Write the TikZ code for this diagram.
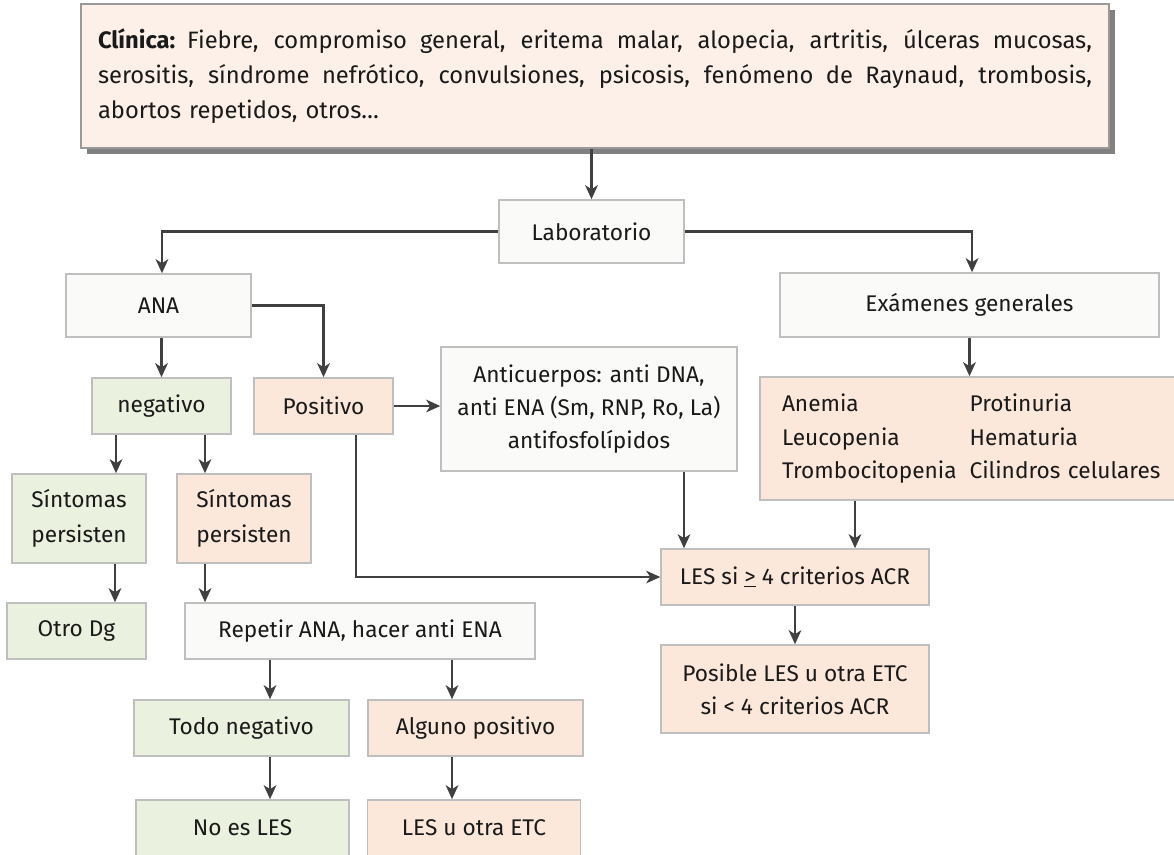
\documentclass[tikz,border=0pt]{standalone}
\usepackage{fontspec}
\setmainfont{Fira Sans}
\usetikzlibrary{arrows.meta,shadows}
\definecolor{bgray}{HTML}{FAFAF8}
\definecolor{bgreen}{HTML}{EAF1DE}
\definecolor{bpeach}{HTML}{FCE8DB}
\definecolor{btop}{HTML}{FDF0E8}
\definecolor{bline}{HTML}{BFBFBF}
\definecolor{arrc}{HTML}{404040}
\definecolor{txt}{HTML}{1A1A1A}
\newcommand\jline[1]{\makebox[745.5pt][s]{\spaceskip=0.26em plus 1fil\relax #1}}
\begin{document}
\begin{tikzpicture}[x=0.75pt,y=-0.75pt,
  box/.style={draw=bline, line width=1.2pt, inner sep=0pt, align=center, text=txt,
    font=\fontsize{17}{25}\selectfont},
  gbox/.style={box, fill=bgray},
  grbox/.style={box, fill=bgreen},
  pbox/.style={box, fill=bpeach},
  link/.style={draw=arrc, line width=1.6pt, -{Stealth[length=10.5pt,width=9.5pt,inset=3pt]}}]
\useasboundingbox (0,0) rectangle (1174,854);

% top box
\node[box, fill=btop, draw=black!40, drop shadow={shadow xshift=4.5pt, shadow yshift=-4.5pt, fill=black!50, opacity=1},
  minimum width=771pt, minimum height=108pt, text width=745.5pt, align=left,
  font=\fontsize{17.8}{26.25}\selectfont] (top) at (595,76)
  {\jline{\textbf{Clínica:} Fiebre, compromiso general, eritema malar, alopecia, artritis, úlceras mucosas,}\\
   \jline{serositis, síndrome nefrótico, convulsiones, psicosis, fenómeno de Raynaud, trombosis,}\\
   abortos repetidos, otros…\\[-6pt]};

\node[gbox, minimum width=138.75pt, minimum height=47.25pt] (lab) at (591.5,231.5) {Laboratorio};
\node[gbox, minimum width=138.75pt, minimum height=47.25pt] (ana) at (158.5,305.5) {ANA};
\node[gbox, minimum width=284.25pt, minimum height=48pt] (exam) at (969.5,305) {Exámenes generales};
\node[grbox, minimum width=104.25pt, minimum height=42pt] (neg) at (161.5,406) {negativo};
\node[pbox, minimum width=104.25pt, minimum height=42pt] (pos) at (323.5,406) {Positivo};
\node[gbox, minimum width=222pt, minimum height=93pt] (anti) at (589,409)
  {Anticuerpos: anti DNA,\\anti ENA (Sm, RNP, Ro, La)\\antifosfolípidos};
\node[pbox, minimum height=92.25pt, text width=289.5pt, inner xsep=16.5pt, align=left] (labres) at (975,438.5)
  {\begin{tabular}{@{}l@{\hspace{9.75pt}}l@{}}
   Anemia & Protinuria\\
   Leucopenia & Hematuria\\
   Trombocitopenia & Cilindros celulares
   \end{tabular}};
\node[grbox, minimum width=100.5pt, minimum height=66.75pt, font=\fontsize{17}{26}\selectfont] (sg) at (79,518.5) {Síntomas\\persisten};
\node[pbox, minimum width=100.5pt, minimum height=66.75pt, font=\fontsize{17}{26}\selectfont] (sp) at (244,518.5) {Síntomas\\persisten};
\node[grbox, minimum width=104.25pt, minimum height=42pt] (otro) at (76.5,631) {Otro Dg};
\node[gbox, minimum width=262.5pt, minimum height=42pt] (rep) at (360,631) {Repetir ANA, hacer anti ENA};
\node[pbox, minimum width=201pt, minimum height=42pt] (les) at (795,577) {LES si \underline{>} 4 criterios ACR};
\node[pbox, minimum width=201pt, minimum height=66pt] (posible) at (795,689) {Posible LES u otra ETC\\si < 4 criterios ACR};
\node[grbox, minimum width=161.25pt, minimum height=42pt] (todo) at (241.5,728) {Todo negativo};
\node[pbox, minimum width=161.25pt, minimum height=42pt] (alg) at (475.5,728) {Alguno positivo};
\node[grbox, minimum width=159.75pt, minimum height=42pt] (noes) at (242.5,828) {No es LES};
\node[pbox, minimum width=159.75pt, minimum height=42pt] (lesu) at (474,828) {LES u otra ETC};

% connectors
\draw[link] (top.south -| lab.north) -- (lab.north);
\draw[link] (lab.west) -| ([xshift=2.6pt]ana.north);
\draw[link] (lab.east) -| ([xshift=1.9pt]exam.north);
\draw[link] (ana.south -| neg.north) -- (neg.north);
\draw[link] (ana.east) -| (pos.north);
\draw[link] ([xshift=-34.1pt]neg.south) -- ([xshift=-34.1pt]neg.south |- sg.north);
\draw[link] ([xshift=32.6pt]neg.south) -- ([xshift=32.6pt]neg.south |- sp.north);
\draw[link] ([xshift=27pt]sg.south) -- ([xshift=27pt]sg.south |- otro.north);
\draw[link] ([xshift=-29.25pt]sp.south) -- ([xshift=-29.25pt]sp.south |- rep.north);
\draw[link] (pos.east) -- (pos.east -| anti.west);
\draw[link] ([xshift=24.4pt]pos.south) |- (les.west);
\draw[link] ([xshift=71.25pt]anti.south) -- ([xshift=71.25pt]anti.south |- les.north);
\draw[link] ([xshift=-90pt]labres.south) -- ([xshift=-90pt]labres.south |- les.north);
\draw[link] (exam.south) -- (exam.south |- labres.north);
\draw[link] (les.south) -- (posible.north);
\draw[link] ([xshift=-67.5pt]rep.south) -- ([xshift=-67.5pt]rep.south |- todo.north);
\draw[link] ([xshift=69pt]rep.south) -- ([xshift=69pt]rep.south |- alg.north);
\draw[link] ([xshift=21.4pt]todo.south) -- ([xshift=21.4pt]todo.south |- noes.north);
\draw[link] ([xshift=-17.6pt]alg.south) -- ([xshift=-17.6pt]alg.south |- lesu.north);
\end{tikzpicture}
\end{document}
